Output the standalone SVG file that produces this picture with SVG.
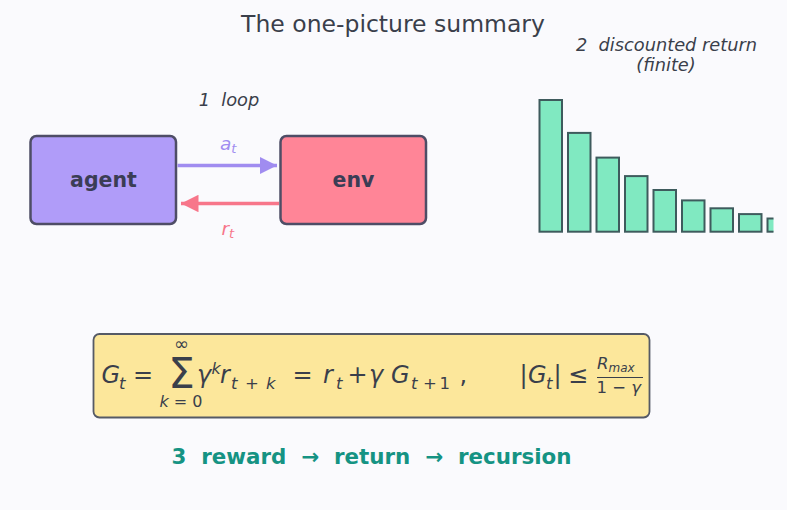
<svg xmlns="http://www.w3.org/2000/svg" width="787" height="510" viewBox="0 0 787 510">
<defs>
<style>
text{font-family:"DejaVu Sans","Liberation Sans",sans-serif;fill:#3a3f4b;white-space:pre}
.it{font-style:italic}
.up{font-style:normal}
.m{font-size:24px}
.s{font-size:16.5px}
.node{stroke:#4e4d66;stroke-width:2.5}
.lbl{font-size:20.5px;font-weight:bold;text-anchor:middle;fill:#3b3d55}
.bar{fill:#80e9c1;stroke:#3e5b5d;stroke-width:2}
.cap{font-size:17.8px;font-style:italic;text-anchor:middle}
</style>
<marker id="ha" viewBox="0 0 10 10" refX="10" refY="5" markerWidth="5" markerHeight="5" orient="auto" markerUnits="strokeWidth"><path d="M0,0L10,5L0,10z" fill="#a08cf0"/></marker>
<marker id="hr" viewBox="0 0 10 10" refX="10" refY="5" markerWidth="5" markerHeight="5" orient="auto" markerUnits="strokeWidth"><path d="M0,0L10,5L0,10z" fill="#f7768a"/></marker>
<clipPath id="axclip"><rect x="530" y="80" width="243.5" height="170"/></clipPath>
</defs>
<rect width="787" height="510" fill="#fafafd"/>
<text x="393" y="32" style="font-size:23.5px;text-anchor:middle">The one-picture summary</text>

<text class="cap" x="229" y="106">1  loop</text>

<g id="agent">
<rect class="node" x="30.5" y="136" width="145.5" height="88" rx="6" fill="#b09cf9"/>
<text class="lbl" x="103.5" y="186.5">agent</text>
</g>
<g id="env">
<rect class="node" x="280.5" y="136" width="145.5" height="88" rx="6" fill="#ff8597"/>
<text class="lbl" x="353.5" y="186.5">env</text>
</g>

<g id="connectors">
<line x1="177.5" y1="165.5" x2="277" y2="165.5" stroke="#a08cf0" stroke-width="3.5" marker-end="url(#ha)"/>
<line x1="279" y1="203.5" x2="181" y2="203.5" stroke="#f7768a" stroke-width="3.5" marker-end="url(#hr)"/>
<text class="it" x="220" y="150" style="font-size:18.5px;fill:#a08cf0">a<tspan style="font-size:13px" dy="3">t</tspan></text>
<text class="it" x="221.5" y="235" style="font-size:18.5px;fill:#f7768a">r<tspan style="font-size:13px" dy="3">t</tspan></text>
</g>

<g id="chart">
<text class="cap" x="666.5" y="51">2  discounted return</text>
<text class="cap" x="666" y="71">(finite)</text>
<g clip-path="url(#axclip)">
<rect class="bar" x="539.5" y="100" width="22.5" height="131.7"/>
<rect class="bar" x="568" y="132.9" width="22.5" height="98.8"/>
<rect class="bar" x="596.5" y="157.6" width="22.5" height="74.1"/>
<rect class="bar" x="625" y="176.1" width="22.5" height="55.6"/>
<rect class="bar" x="653.5" y="190" width="22.5" height="41.7"/>
<rect class="bar" x="682" y="200.4" width="22.5" height="31.3"/>
<rect class="bar" x="710.5" y="208.3" width="22.5" height="23.4"/>
<rect class="bar" x="739" y="214.1" width="22.5" height="17.6"/>
<rect class="bar" x="767.5" y="218.5" width="22.5" height="13.2"/>
</g>
</g>

<g id="formula">
<rect x="93.5" y="334" width="556" height="83.5" rx="6" fill="#fce79b" stroke="#555a66" stroke-width="1.8"/>
<text class="it m" x="101.5" y="383">G</text>
<text class="it s" x="119" y="389">t</text>
<text class="up m" x="133" y="383">=</text>
<text class="up" x="181.5" y="388" style="font-size:42px;text-anchor:middle">Σ</text>
<text class="up" x="181.5" y="350" style="text-anchor:middle;font-size:18px">∞</text>
<text class="s" x="181" y="406.5" style="text-anchor:middle;font-size:16px"><tspan class="it">k</tspan> = 0</text>
<text class="it m" x="197" y="383">γ</text>
<text class="it" x="211.5" y="374" style="font-size:16px">k</text>
<text class="it m" x="220" y="383">r</text>
<text class="s" y="389"><tspan class="it" x="231">t</tspan><tspan x="245">+</tspan><tspan class="it" x="266">k</tspan></text>
<text class="up m" x="292.5" y="383">=</text>
<text class="it m" x="323" y="383">r</text>
<text class="it s" x="336" y="389">t</text>
<text class="up m" x="347.5" y="383">+</text>
<text class="it m" x="369" y="383">γ</text>
<text class="it m" x="391" y="383">G</text>
<text class="s" y="389"><tspan class="it" x="411">t</tspan><tspan x="423">+</tspan><tspan x="439.5">1</tspan></text>
<text class="up m" x="459.5" y="383">,</text>
<text class="up m" x="519.5" y="383">|</text>
<text class="it m" x="528" y="383">G</text>
<text class="it s" x="546" y="389">t</text>
<text class="up m" x="553.5" y="383">|</text>
<text class="up m" x="568" y="383">≤</text>
<text class="it" x="597" y="369" style="font-size:16.5px">R<tspan style="font-size:12px" dy="3">max</tspan></text>
<line x1="597" y1="377.5" x2="643" y2="377.5" stroke="#3a3f4b" stroke-width="1"/>
<text x="596.5" y="392.5" style="font-size:16.5px">1 − <tspan class="it">γ</tspan></text>
</g>

<text x="371.5" y="463.5" style="font-size:21.4px;font-weight:bold;text-anchor:middle;fill:#159383">3  reward  →  return  →  recursion</text>
</svg>
